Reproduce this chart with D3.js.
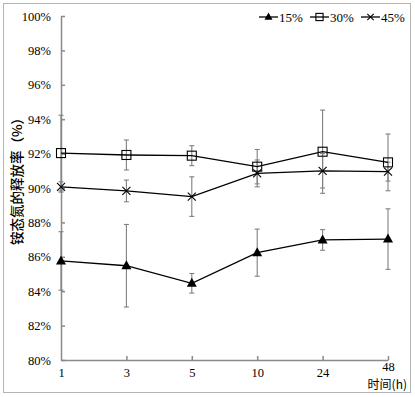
<!DOCTYPE html>
<html><head><meta charset="utf-8">
<script src="https://cdn.jsdelivr.net/npm/d3@7"></script>
<style>
html,body{margin:0;padding:0;background:#fff;}
svg{display:block;}
</style></head>
<body>
<script>
const categories = ["1","3","5","10","24","48"];
const yTicks = [80,82,84,86,88,90,92,94,96,98,100];
const seriesNames = ["15%","30%","45%"];
const s15 = [85.76, 85.48, 84.46, 86.24, 86.98, 87.03];
const e15 = [1.7, 2.4, 0.57, 1.37, 0.6, 1.76];
const s30 = [92.03, 91.92, 91.88, 91.24, 92.11, 91.49];
const e30 = [2.2, 0.87, 0.58, 1.0, 2.42, 1.65];
const s45 = [90.06, 89.83, 89.5, 90.85, 91.0, 90.95];
const e45 = [0.3, 0.63, 1.15, 0.78, 1.0, 0.55];
const yLabel = "铵态氮的释放率（%）";
const xLabel = "时间(h)";

const W = 415, H = 397;
const svg = d3.select("body").append("svg").attr("width", W).attr("height", H);
svg.append("rect").attr("x",3.5).attr("y",3.5).attr("width",407).attr("height",389)
  .attr("fill","#fff").attr("stroke","#b4b4b4").attr("stroke-width",1);

const x = d3.scalePoint().domain(categories).range([61, 388]);
const y = d3.scaleLinear().domain([80,100]).range([360, 16]);
const serif = "'Liberation Serif','DejaVu Serif',serif";
const axisColor = "#8a8a8a";

const yAxis = svg.append("g").attr("transform","translate(61,0)")
  .call(d3.axisLeft(y).tickValues(yTicks).tickFormat(d=>d+"%").tickSizeInner(-4).tickSizeOuter(0).tickPadding(10));
const xAxis = svg.append("g").attr("transform","translate(0,360)")
  .call(d3.axisBottom(x).tickSizeInner(-4).tickSizeOuter(0).tickPadding(8));
[yAxis,xAxis].forEach(g=>{
  g.selectAll("path,line").attr("stroke",axisColor).attr("stroke-width",1.5);
  g.selectAll("text").attr("font-family",serif).attr("font-size",12.5).attr("fill","#000");
});
xAxis.selectAll(".tick").filter((d,i)=>i===0).select("line").remove();
xAxis.selectAll(".tick").filter(d=>d==="48").select("text").attr("y",2.5);

svg.append("text").attr("transform","translate(22,178) rotate(-90)")
  .attr("text-anchor","middle").attr("font-family","'Noto Sans CJK SC',sans-serif")
  .attr("font-size",13.5).attr("font-weight",500).attr("fill","#000").text(yLabel);
svg.append("text").attr("x",407).attr("y",389).attr("text-anchor","end")
  .attr("font-family","'Noto Sans CJK SC',sans-serif").attr("font-size",12).attr("fill","#000").text(xLabel);

const data = [
  {name: seriesNames[0], v: s15, e: e15, m: "tri"},
  {name: seriesNames[1], v: s30, e: e30, m: "sq"},
  {name: seriesNames[2], v: s45, e: e45, m: "x"}
];

data.forEach(s=>{
  const g = svg.append("g").attr("stroke","#808080").attr("stroke-width",1.1);
  categories.forEach((c,i)=>{
    const cx = x(c), t = y(s.v[i]+s.e[i]), b = y(s.v[i]-s.e[i]);
    g.append("line").attr("x1",cx).attr("x2",cx).attr("y1",t).attr("y2",b);
    g.append("line").attr("x1",cx-2.5).attr("x2",cx+2.5).attr("y1",t).attr("y2",t);
    g.append("line").attr("x1",cx-2.5).attr("x2",cx+2.5).attr("y1",b).attr("y2",b);
  });
});

const line = d3.line().x((d,i)=>x(categories[i])).y(d=>y(d));
data.forEach(s=>{
  svg.append("path").datum(s.v).attr("d",line).attr("fill","none").attr("stroke","#000").attr("stroke-width",1.3);
});

function marker(g, type, cx, cy, k){
  k = k || 1;
  if(type==="tri"){
    g.append("path").attr("d",`M${cx},${cy-5.5*k}L${cx+5*k},${cy+3.5*k}L${cx-5*k},${cy+3.5*k}Z`).attr("fill","#000");
  } else if(type==="sq"){
    g.append("rect").attr("x",cx-4.5*k).attr("y",cy-4.5*k).attr("width",9*k).attr("height",9*k)
      .attr("fill","none").attr("stroke","#000").attr("stroke-width",1.1);
  } else {
    g.append("path").attr("d",`M${cx-4*k},${cy-4*k}L${cx+4*k},${cy+4*k}M${cx-4*k},${cy+4*k}L${cx+4*k},${cy-4*k}`)
      .attr("stroke","#000").attr("stroke-width",1.1);
  }
}
data.forEach(s=>{
  const g = svg.append("g");
  s.v.forEach((v,i)=>marker(g, s.m, x(categories[i]), y(v)));
});

const legX = [259, 310, 361];
data.forEach((s,i)=>{
  const g = svg.append("g");
  const lx = legX[i], ly = 17;
  g.append("line").attr("x1",lx).attr("x2",lx+19).attr("y1",ly).attr("y2",ly).attr("stroke","#000").attr("stroke-width",1.3);
  marker(g, s.m, lx+9.5, ly, 0.8);
  g.append("text").attr("x",lx+20).attr("y",ly+4.5).attr("font-family",serif).attr("font-size",13).attr("fill","#000").text(s.name);
});
</script>
</body></html>
